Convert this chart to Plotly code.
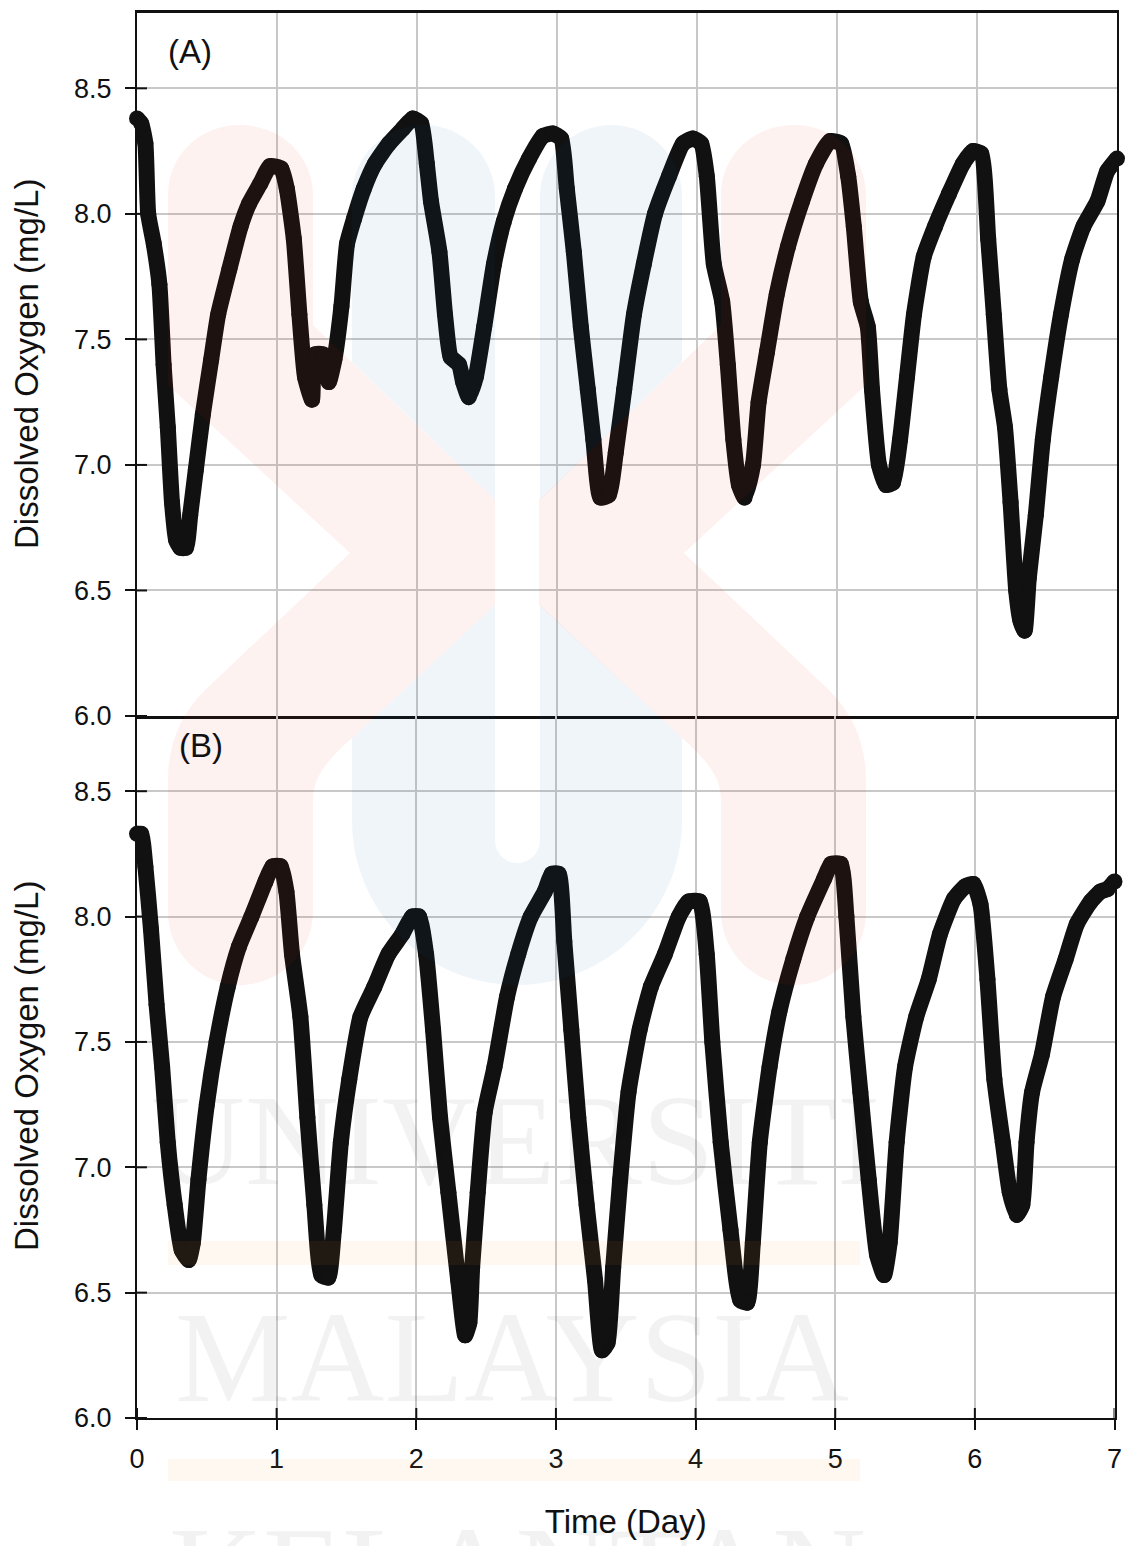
import plotly.graph_objects as go

a_days = [0,0.03,0.06,0.08,0.12,0.16,0.19,0.22,0.25,0.28,0.31,0.35,0.38,0.42,0.47,0.53,0.58,0.66,0.74,0.8,0.88,0.95,1.03,1.07,1.12,1.16,1.2,1.25,1.27,1.33,1.37,1.41,1.46,1.5,1.55,1.62,1.7,1.8,1.9,1.97,2.03,2.07,2.1,2.16,2.2,2.24,2.3,2.33,2.37,2.42,2.48,2.55,2.62,2.7,2.8,2.9,2.97,3.03,3.07,3.12,3.17,3.22,3.26,3.31,3.37,3.42,3.48,3.55,3.62,3.7,3.8,3.9,3.97,4.03,4.07,4.12,4.18,4.22,4.26,4.3,4.34,4.4,4.44,4.5,4.57,4.65,4.75,4.85,4.95,5.03,5.08,5.12,5.17,5.22,5.25,5.3,5.35,5.4,5.45,5.5,5.55,5.62,5.7,5.8,5.9,5.97,6.03,6.08,6.12,6.16,6.2,6.24,6.28,6.31,6.34,6.37,6.42,6.47,6.53,6.6,6.68,6.76,6.86,6.93,7]
a_do = [8.38,8.36,8.28,8.0,7.88,7.72,7.4,7.15,6.85,6.7,6.67,6.67,6.8,6.98,7.2,7.42,7.6,7.78,7.95,8.04,8.12,8.19,8.18,8.1,7.9,7.6,7.35,7.26,7.44,7.44,7.33,7.42,7.63,7.88,7.98,8.1,8.2,8.28,8.34,8.38,8.36,8.2,8.05,7.85,7.6,7.43,7.4,7.33,7.27,7.35,7.55,7.8,7.97,8.1,8.22,8.31,8.32,8.3,8.1,7.85,7.55,7.3,7.1,6.87,6.88,7.05,7.3,7.6,7.8,8.0,8.15,8.28,8.3,8.28,8.15,7.8,7.65,7.4,7.1,6.92,6.87,7.0,7.25,7.45,7.68,7.87,8.05,8.2,8.29,8.28,8.15,7.95,7.65,7.55,7.3,7.0,6.92,6.93,7.1,7.35,7.6,7.83,7.95,8.08,8.2,8.25,8.24,7.9,7.6,7.3,7.15,6.85,6.5,6.38,6.34,6.55,6.8,7.1,7.35,7.6,7.82,7.95,8.05,8.17,8.22]
b_days = [0,0.03,0.06,0.1,0.14,0.18,0.22,0.27,0.32,0.37,0.4,0.44,0.5,0.57,0.65,0.73,0.82,0.92,0.97,1.03,1.07,1.11,1.17,1.22,1.27,1.32,1.37,1.41,1.46,1.52,1.6,1.7,1.8,1.9,1.97,2.02,2.07,2.12,2.17,2.23,2.3,2.35,2.38,2.4,2.44,2.49,2.56,2.65,2.73,2.82,2.92,2.97,3.02,3.06,3.11,3.16,3.22,3.28,3.33,3.37,3.41,3.46,3.52,3.6,3.68,3.78,3.88,3.95,4.03,4.08,4.12,4.18,4.25,4.32,4.37,4.41,4.46,4.53,4.6,4.7,4.8,4.92,4.97,5.04,5.08,5.13,5.18,5.24,5.3,5.35,5.39,5.44,5.5,5.58,5.67,5.75,5.85,5.93,5.99,6.04,6.09,6.14,6.2,6.25,6.3,6.34,6.37,6.41,6.48,6.56,6.65,6.73,6.83,6.9,6.95,7]
b_do = [8.33,8.33,8.2,7.95,7.65,7.4,7.1,6.85,6.67,6.63,6.7,6.95,7.25,7.5,7.72,7.88,8.0,8.14,8.2,8.2,8.1,7.85,7.6,7.2,6.85,6.57,6.56,6.75,7.1,7.35,7.6,7.72,7.85,7.93,8.0,8.0,7.85,7.55,7.2,6.9,6.55,6.33,6.38,6.6,6.9,7.22,7.4,7.68,7.85,8.0,8.1,8.17,8.17,7.9,7.55,7.2,6.85,6.55,6.27,6.3,6.6,6.95,7.3,7.55,7.72,7.85,8.0,8.06,8.06,7.85,7.5,7.1,6.75,6.47,6.46,6.7,7.1,7.4,7.62,7.83,8.0,8.15,8.21,8.21,8.0,7.6,7.3,6.95,6.65,6.57,6.7,7.1,7.4,7.6,7.75,7.93,8.07,8.12,8.13,8.05,7.75,7.35,7.1,6.9,6.81,6.85,7.1,7.3,7.45,7.68,7.83,7.97,8.06,8.1,8.11,8.14]

x_ticks = [0,1,2,3,4,5,6,7]
y_ticks = [6.0,6.5,7.0,7.5,8.0,8.5]
y_tick_labels = ["6.0","6.5","7.0","7.5","8.0","8.5"]
y_title = "Dissolved Oxygen (mg/L)"
x_title = "Time (Day)"

W, H = 1128, 1546
ML, MR, MT, MB = 137, 10, 13, 128
PW, PH = W - ML - MR, H - MT - MB
def px(x): return (x - ML) / PW
def py(y): return 1 - (y - MT) / PH
def P(x, y): return f"{px(x):.5f} {py(y):.5f}"

FONT = "Liberation Sans, Arial, sans-serif"
GRID = "#c8c8c8"
LINE = "#111111"

fig = go.Figure()
for days, vals, xa, ya, nm in [(a_days, a_do, "x", "y", "A"), (b_days, b_do, "x2", "y2", "B")]:
    fig.add_trace(go.Scatter(x=days, y=vals, xaxis=xa, yaxis=ya, name=nm, mode="lines+markers",
                             line=dict(color=LINE, width=16, shape="spline", smoothing=0.5),
                             marker=dict(color=LINE, size=16),
                             cliponaxis=False, showlegend=False))

common_y = dict(range=[6.0, 8.8], tickvals=y_ticks, ticktext=y_tick_labels, ticks="outside", ticklen=10,
                tickwidth=2, tickcolor="#111", showgrid=True, gridcolor=GRID, gridwidth=2,
                zeroline=False, showline=True, linecolor="#111", linewidth=2, ticklabelstandoff=8, mirror=True,
                tickfont=dict(family=FONT, size=27, color="#111"))
common_x = dict(range=[0, 7], tickvals=x_ticks, showgrid=True, gridcolor=GRID, gridwidth=2, zeroline=False,
                showline=True, linecolor="#111")

fig.update_layout(
    width=W, height=H, paper_bgcolor="white", plot_bgcolor="rgba(0,0,0,0)", showlegend=False,
    margin=dict(l=ML, r=MR, t=MT, b=MB, autoexpand=False),
    xaxis=dict(common_x, domain=[0, px(1117)], anchor="y", ticks="", showticklabels=False, mirror=True, linewidth=2.5),
    yaxis=dict(common_y, domain=[py(716), 1], anchor="x"),
    xaxis2=dict(common_x, domain=[0, px(1114.5)], anchor="y2", ticks="outside", ticklen=10, tickwidth=2, tickcolor="#111",
                linewidth=2, ticklabelstandoff=6, tickfont=dict(family=FONT, size=27, color="#111"),
                title=dict(text=x_title, font=dict(family=FONT, size=33, color="#111"), standoff=36)),
    yaxis2=dict(common_y, domain=[0, py(716)], anchor="x2"),
)

shapes = []
# inward half of the crossing tick marks
for v in y_ticks:
    for xr, yr in [("x domain", "y"), ("x2 domain", "y2")]:
        shapes.append(dict(type="line", xref=xr, yref=yr, x0=0, x1=10 / PW, y0=v, y1=v, line=dict(color="#111", width=2)))
for v in x_ticks:
    shapes.append(dict(type="line", xref="x2", yref="y2 domain", x0=v, x1=v, y0=0, y1=10 / 702, line=dict(color="#111", width=2)))

# watermark logo
BLUE = "rgba(0,85,165,0.06)"
RED = "rgba(230,30,20,0.06)"
ORANGE = "rgba(245,150,50,0.07)"
def wm(path, color):
    shapes.append(dict(type="path", xref="paper", yref="paper", path=path, fillcolor=color,
                       line=dict(width=0), layer="above"))
k = 0.5523
def red_half(m):
    f = lambda x: 1034 - x if m else x
    p = lambda x, y: P(f(x), y)
    return " ".join([
        f"M {p(168,195)}",
        f"C {p(168,155)} {p(200,125)} {p(240,125)}",
        f"C {p(280,125)} {p(313,155)} {p(313,195)}",
        f"L {p(313,325)} L {p(495,500)} L {p(495,605)} L {p(352,738)}",
        f"C {p(330,758)} {p(313,775)} {p(313,800)}",
        f"L {p(313,912)}",
        f"C {p(313,952)} {p(280,985)} {p(240,985)}",
        f"C {p(200,985)} {p(168,952)} {p(168,912)}",
        f"L {p(168,780)}",
        f"C {p(168,745)} {p(180,715)} {p(205,690)}",
        f"L {p(350,553)} L {p(168,385)} Z",
    ])
r = 71.5
wm(" ".join([f"M {P(352,125+r)}", f"C {P(352,125+r-k*r)} {P(423.5-k*r,125)} {P(423.5,125)}",
             f"C {P(423.5+k*r,125)} {P(495,125+r-k*r)} {P(495,125+r)}", f"L {P(495,500)} L {P(352,362)} Z"]), BLUE)
wm(" ".join([f"M {P(540,125+r)}", f"C {P(540,125+r-k*r)} {P(611.5-k*r,125)} {P(611.5,125)}",
             f"C {P(611.5+k*r,125)} {P(682,125+r-k*r)} {P(682,125+r)}", f"L {P(682,362)} L {P(540,500)} Z"]), BLUE)
wm(" ".join([f"M {P(352,738)}", f"L {P(495,605)} L {P(495,840)}",
             f"C {P(495,853)} {P(505,863)} {P(517,863)}", f"C {P(530,863)} {P(540,853)} {P(540,840)}",
             f"L {P(540,605)} L {P(682,738)} L {P(682,820)}",
             f"C {P(682,911)} {P(608,985)} {P(517,985)}", f"C {P(426,985)} {P(352,911)} {P(352,820)} Z"]), BLUE)
wm(red_half(False), RED)
wm(red_half(True), RED)
for y0, y1 in [(1241, 1265), (1459, 1481)]:
    wm(f"M {P(168,y0)} L {P(860,y0)} L {P(860,y1)} L {P(168,y1)} Z", ORANGE)
fig.update_layout(shapes=shapes)

ann = [
    dict(text="(A)", xref="x", yref="y", x=0.38, y=8.648, showarrow=False, font=dict(family=FONT, size=33, color="#111")),
    dict(text="(B)", xref="x2", yref="y2", x=0.46, y=8.684, showarrow=False, font=dict(family=FONT, size=33, color="#111")),
]
for cy in (364, 1066):
    ann.append(dict(text=y_title, xref="paper", yref="paper", x=px(26), y=py(cy), xanchor="center", yanchor="middle",
                    textangle=-90, showarrow=False, font=dict(family=FONT, size=33, color="#111")))
for word, cx, top in [("UNIVERSITI", 515, 1066), ("MALAYSIA", 512, 1283), ("KELANTAN", 517, 1498)]:
    ann.append(dict(text=word, xref="paper", yref="paper", x=px(cx), y=py(top), xanchor="center", yanchor="top",
                    showarrow=False, font=dict(family="Liberation Serif, serif", size=130, color="rgba(0,0,0,0.05)")))
fig.update_layout(annotations=ann)

fig.write_html("out.html", config=dict(displayModeBar=False),
               post_script="document.body.style.margin='0';document.body.style.overflow='hidden';")
